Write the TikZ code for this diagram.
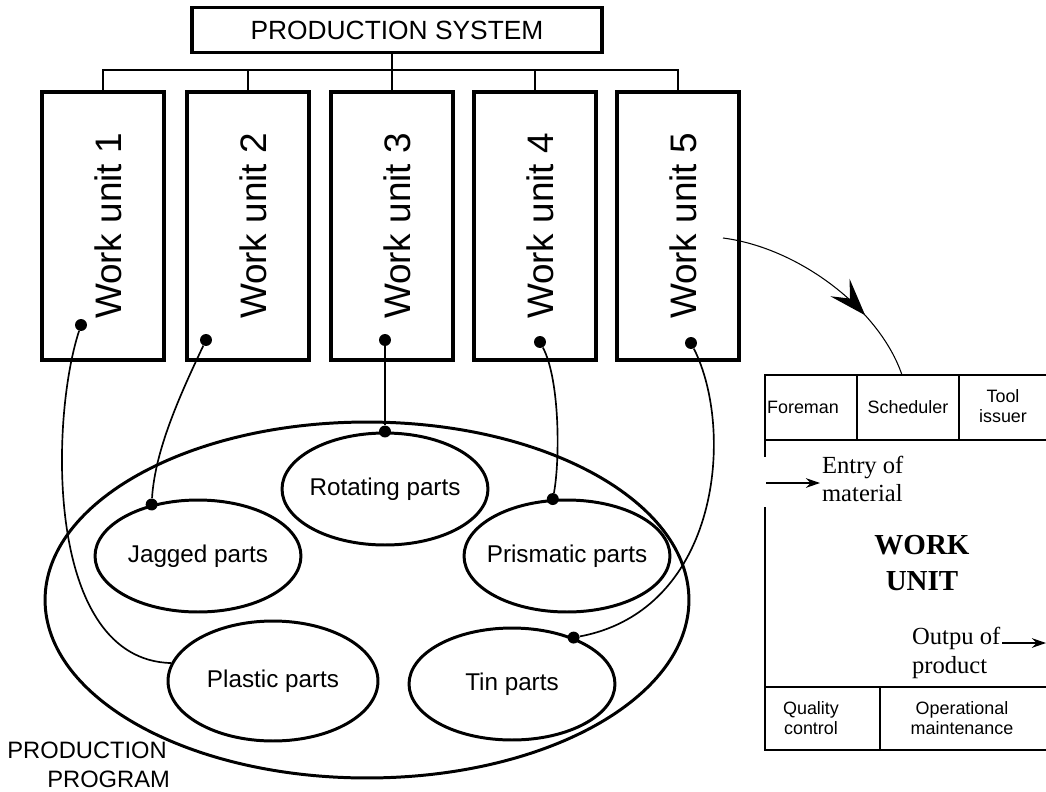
\documentclass[tikz,border=0pt]{standalone}
\usepackage{fontspec}
\setmainfont{Liberation Sans}
\newfontfamily\timesfont{Liberation Serif}
\usetikzlibrary{shapes.geometric,arrows.meta,decorations.markings}

\begin{document}
\begin{tikzpicture}[x=0.02cm, y=-0.02cm,
  unitbox/.style={draw, line width=2pt, minimum width=2.44cm, minimum height=5.36cm, font=\fontsize{21}{25}\selectfont},
  part/.style={ellipse, draw, line width=1.7pt, minimum width=4.12cm, minimum height=2.24cm, inner sep=0pt, font=\fontsize{13.8}{16}\selectfont},
  dot/.style={circle, fill, inner sep=0pt, minimum size=6.8pt},
  link/.style={line width=0.95pt},
  cell/.style={font=\fontsize{10.2}{11.4}\selectfont, align=center, inner sep=1pt},
  times/.style={font=\timesfont\fontsize{14}{16}\selectfont, align=left, inner sep=1pt},
  flow/.style={line width=0.9pt, -{Stealth[length=8pt,width=5.5pt]}}]

\useasboundingbox (0,0) rectangle (1046,792);

% production system and the work units
\node[draw, line width=2.2pt, minimum width=8.2cm, minimum height=0.9cm, font=\fontsize{15}{18}\selectfont] (sys) at (397,30) {PRODUCTION SYSTEM};
\foreach \i/\x in {1/103,2/248,3/392,4/535,5/678}
  \node[unitbox] (wu\i) at (\x,226) {\hspace*{6pt}\rotatebox{90}{Work unit \i}};
\draw[line width=1.1pt] (wu1.north) -- ++(0,-20) -| (wu5.north);
\foreach \i in {2,4} \draw[line width=1.1pt] (wu\i.north) -- ++(0,-20);
\draw[line width=1.1pt] (sys.south -| wu3.north) -- (wu3.north);

% production program
\node[part, minimum width=12.88cm, minimum height=7.12cm] (prog) at (367,600) {};
\node[part] (rot) at (385,489) {\makebox[0pt]{Rotating parts}};
\node[part] (jag) at (198,556) {\makebox[0pt]{Jagged parts}};
\node[part] (prism) at (567,556) {\makebox[0pt]{Prismatic parts}};
\node[part, minimum width=4.2cm, minimum height=2.4cm] (plast) at (273,681) {\makebox[0pt]{Plastic parts}};
\node[part] (tin) at (512,684) {\makebox[0pt]{Tin parts}};
\node[anchor=west, inner sep=0pt, align=left, font=\fontsize{13.5}{16.5}\selectfont] (progl) at (7,765) {PRODUCTION\\\hspace*{0.8cm}PROGRAM};

% links between units and parts
\node[dot] (d1) at (81,325) {};
\node[dot] (d2) at (206,340) {};
\node[dot] (d3) at (385,340) {};
\node[dot] (d4) at (540,342) {};
\node[dot] (d5) at (691,343) {};
\coordinate (e1) at (plast.170);
\node[dot] (e2) at (jag.132) {};
\node[dot] (e3) at (rot.north) {};
\node[dot] (e4) at (prism.104) {};
\node[dot] (e5) at (tin.37) {};
\draw[link] (d1) .. controls (50,420) and (45,660) .. (e1);
\draw[link] (d2) .. controls (180,395) and (155,450) .. (e2);
\draw[link] (d3) -- (e3);
\draw[link] (d4) .. controls (560,380) and (560,460) .. (e4);
\draw[link] (d5) .. controls (735,430) and (720,610) .. (e5);

% detail of a work unit
\coordinate (a0) at (723,238);
\coordinate (wtop) at (902,375);
\draw[line width=0.6pt, postaction={decorate}, decoration={markings, mark=at position 0.7 with {\arrow{Stealth[length=0.75cm,width=0.52cm,inset=0.3cm]}}}]
  (a0) .. controls (800,248) and (880,310) .. (wtop);
\draw[line width=1.4pt] (1052,375) -- (765,375) -- (765,457) (765,507) -- (765,750) -- (1052,750);
\draw[line width=0.9pt] (765,440) -- (1052,440) (857,375) -- (857,440) (959,375) -- (959,440)
  (765,687) -- (1052,687) (880,687) -- (880,750);
\node[cell] (fore) at (803,407) {Foreman};
\node[cell] (sched) at (908,407) {Scheduler};
\node[cell] (tool) at (1003,406) {Tool\\issuer};
\node[cell] (qual) at (811,718) {Quality\\control};
\node[cell] (maint) at (962,718) {Operational\\maintenance};
\node[times, anchor=west] (entry) at (820,479) {Entry of\\material};
\node[font=\timesfont\bfseries\fontsize{16.5}{21}\selectfont, align=center] (wunit) at (922,563) {WORK\\UNIT};
\node[times, anchor=west] (output) at (910,653) {Outpu of\\product};
\coordinate (mat in) at (766,483);
\coordinate (prod out) at (1046,643);
\draw[flow] (mat in) -- (mat in -| entry.west);
\draw[flow] (prod out -| output.east) -- (prod out);
\end{tikzpicture}
\end{document}
